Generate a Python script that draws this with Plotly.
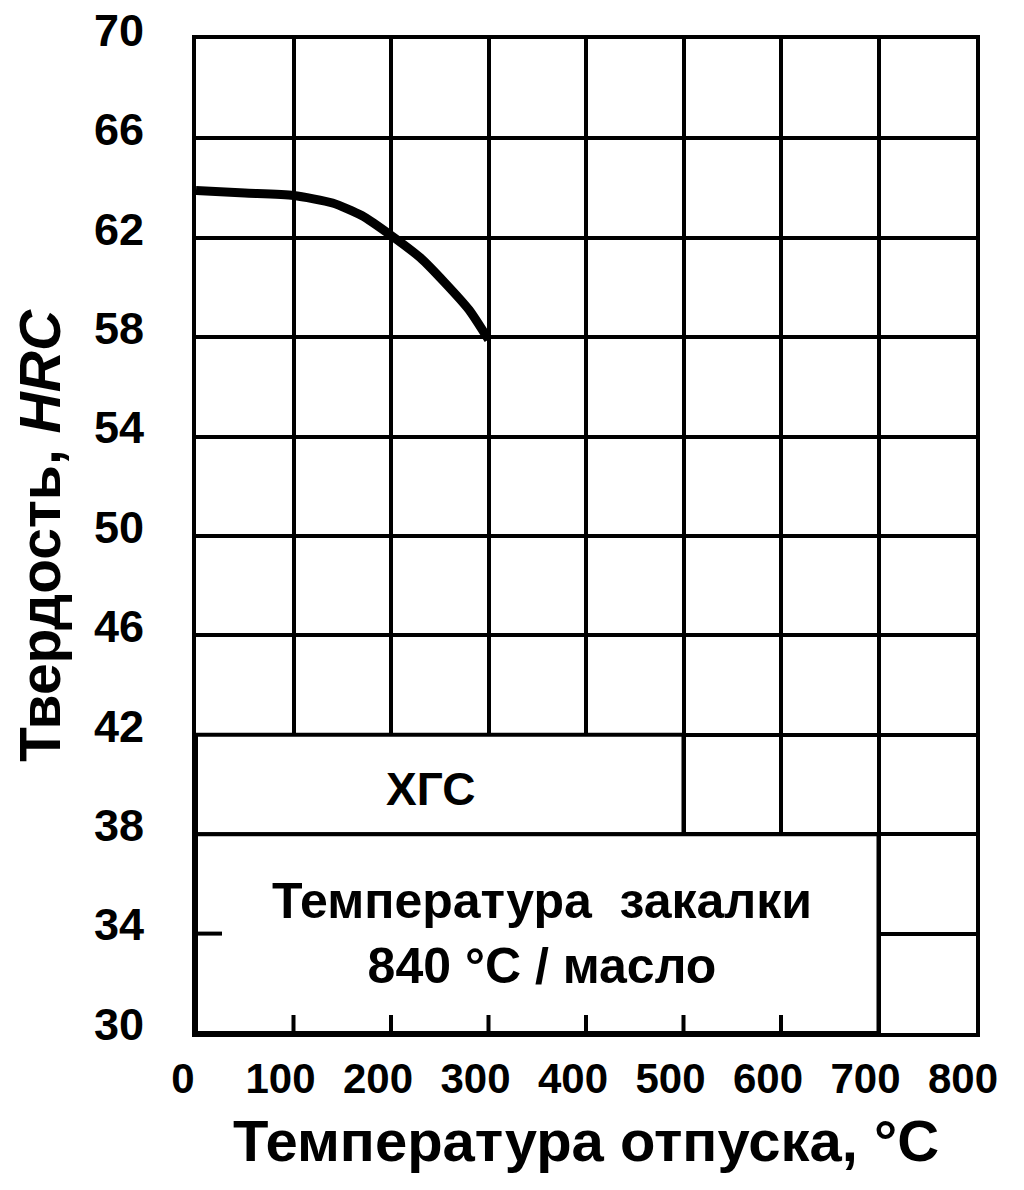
import plotly.graph_objects as go

# Data
temp = [0, 50, 100, 140, 170, 200, 230, 255, 280, 300]
hrc = [63.9, 63.8, 63.7, 63.4, 62.9, 62.1, 61.2, 60.2, 59.1, 57.9]

x_ticks = [0, 100, 200, 300, 400, 500, 600, 700, 800]
y_ticks = [30, 34, 38, 42, 46, 50, 54, 58, 62, 66, 70]

steel_label = "ХГС"
note_lines = ["Температура  закалки", "840 °C / масло"]
x_title = "Температура отпуска, °C"
y_title = "Твердость, <i>HRC</i>"

FONT = "Liberation Sans, Arial, sans-serif"
LW = 4

fig = go.Figure()
fig.add_trace(go.Scatter(x=temp, y=hrc, mode="lines",
                         line=dict(color="black", width=9, shape="spline", smoothing=0.6),
                         hoverinfo="skip", showlegend=False))

shapes = []
shapes.append(dict(type="rect", xref="x", yref="y", x0=0, x1=500, y0=38, y1=42,
                   fillcolor="white", line=dict(color="black", width=LW), layer="above"))
shapes.append(dict(type="rect", xref="x", yref="y", x0=0, x1=700, y0=30, y1=38,
                   fillcolor="white", line=dict(color="black", width=LW), layer="above"))
for xv in x_ticks[1:7]:
    shapes.append(dict(type="line", xref="x", yref="y", ysizemode="pixel", yanchor=30,
                       x0=xv, x1=xv, y0=0, y1=18, line=dict(color="black", width=LW), layer="above"))
shapes.append(dict(type="line", xref="x", yref="y", xsizemode="pixel", xanchor=0,
                   x0=0, x1=26, y0=34, y1=34, line=dict(color="black", width=LW), layer="above"))

fig.update_layout(
    width=1024, height=1190,
    margin=dict(l=188, r=56, t=31, b=165),
    paper_bgcolor="white", plot_bgcolor="white",
    shapes=shapes,
    font=dict(family=FONT, color="black"),
    xaxis=dict(range=[0, 800], tickvals=x_ticks, ticktext=[str(v) for v in x_ticks],
               automargin=False,
               showgrid=True, gridcolor="black", gridwidth=LW,
               showline=True, linecolor="black", linewidth=LW, mirror=True,
               zeroline=False, ticks="", ticklabelstandoff=6, ticklabelshift=-13,
               ticklabeloverflow="allow",
               tickfont=dict(size=42, family=FONT, weight="bold"),
               title=dict(text=x_title, font=dict(size=58, family=FONT, weight="bold"), standoff=20)),
    yaxis=dict(range=[30, 70], tickvals=y_ticks, ticktext=[str(v) for v in y_ticks],
               automargin=False,
               showgrid=True, gridcolor="black", gridwidth=LW,
               showline=True, linecolor="black", linewidth=LW, mirror=True,
               zeroline=False, ticks="", ticklabelstandoff=39, ticklabelshift=-9,
               ticklabeloverflow="allow",
               tickfont=dict(size=45, family=FONT, weight="bold"),
               title=dict(text=y_title, font=dict(size=57, family=FONT, weight="bold"), standoff=40)),
    annotations=[
        dict(x=240, y=39.8, xref="x", yref="y", text=steel_label, showarrow=False,
             font=dict(size=46, family=FONT, weight="bold")),
        dict(x=355, y=34.0, xref="x", yref="y", text="<br>".join(note_lines), showarrow=False,
             font=dict(size=50, family=FONT, weight="bold"), align="center"),
    ],
)

fig.write_html("out.html")
